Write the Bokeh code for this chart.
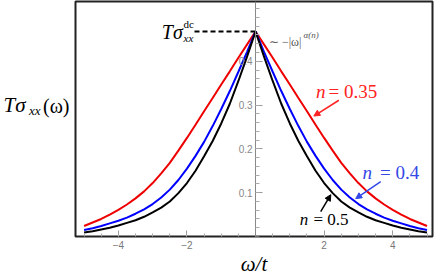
from bokeh.plotting import figure
from bokeh.models import Range1d, LinearAxis, FixedTicker, Label, Arrow, NormalHead
from bokeh.embed import file_html
from bokeh.resources import INLINE

# ---------------- data ----------------
omega = [-5, -4.75, -4.5, -4.25, -4, -3.75, -3.5, -3.25, -3, -2.75, -2.5, -2.25, -2, -1.75, -1.5, -1.25,
         -1, -0.75, -0.5, -0.25, 0, 0.25, 0.5, 0.75, 1, 1.25, 1.5, 1.75, 2, 2.25, 2.5, 2.75, 3,
         3.25, 3.5, 3.75, 4, 4.25, 4.5, 4.75, 5]
sigma_n035 = [0.024, 0.032, 0.040, 0.050, 0.061, 0.073, 0.087, 0.103, 0.122, 0.144, 0.168, 0.196, 0.225, 0.255,
              0.286, 0.316, 0.347, 0.377, 0.408, 0.438, 0.468, 0.438, 0.408, 0.377, 0.347, 0.316, 0.286,
              0.255, 0.225, 0.196, 0.168, 0.144, 0.122, 0.103, 0.087, 0.073, 0.061, 0.050, 0.040, 0.032, 0.024]
sigma_n04 = [0.015, 0.019, 0.024, 0.030, 0.036, 0.043, 0.052, 0.062, 0.074, 0.089, 0.107, 0.129, 0.155, 0.184,
             0.216, 0.252, 0.291, 0.332, 0.376, 0.421, 0.468, 0.421, 0.376, 0.332, 0.291, 0.252, 0.216,
             0.184, 0.155, 0.129, 0.107, 0.089, 0.074, 0.062, 0.052, 0.043, 0.036, 0.030, 0.024, 0.019, 0.015]
sigma_n05 = [0.009, 0.012, 0.016, 0.020, 0.025, 0.031, 0.037, 0.045, 0.055, 0.066, 0.080, 0.099, 0.122, 0.150,
             0.183, 0.218, 0.258, 0.303, 0.355, 0.410, 0.468, 0.410, 0.355, 0.303, 0.258, 0.218, 0.183,
             0.150, 0.122, 0.099, 0.080, 0.066, 0.055, 0.045, 0.037, 0.031, 0.025, 0.020, 0.016, 0.012, 0.009]
sigma_dc = 0.468

x_tick_values = [-4, -2, 2, 4]
x_tick_labels = ["\u22124", "\u22122", "2", "4"]
y_tick_values = [0.1, 0.2, 0.3, 0.4]
y_tick_labels = ["0.1", "0.2", "0.3", "0.4"]

# ---------------- figure ----------------
p = figure(width=436, height=278, output_backend="svg", toolbar_location=None,
           x_range=Range1d(-5.25, 5.16), y_range=Range1d(0, 0.5364),
           min_border_left=74, min_border_right=4, min_border_top=1, min_border_bottom=41,
           y_axis_location=None)
p.grid.visible = False
p.outline_line_color = "#222222"
p.outline_line_width = 2
p.background_fill_color = "white"
p.border_fill_color = "white"

SERIF = "Liberation Serif"
SANS = "Liberation Sans"

xa = p.xaxis[0]
xa.ticker = FixedTicker(ticks=x_tick_values, minor_ticks=[i * 0.5 for i in range(-10, 11)])
xa.major_label_overrides = dict(zip(x_tick_values, x_tick_labels))
xa.axis_line_color = None
xa.major_tick_in = 6
xa.major_tick_out = 0
xa.minor_tick_in = 3
xa.minor_tick_out = 0
xa.major_tick_line_color = "#999999"
xa.minor_tick_line_color = "#aaaaaa"
xa.major_label_text_color = "#777777"
xa.major_label_text_font = SANS
xa.major_label_text_font_size = "10px"
xa.major_label_standoff = 4
xa.axis_label = "\u03c9/t"
xa.axis_label_text_font = SERIF
xa.axis_label_text_font_style = "italic"
xa.axis_label_text_font_size = "21px"
xa.axis_label_text_color = "black"
xa.axis_label_standoff = 0

ya = LinearAxis(fixed_location=0,
                ticker=FixedTicker(ticks=y_tick_values, minor_ticks=[i * 0.02 for i in range(0, 27)]))
ya.major_label_overrides = dict(zip(y_tick_values, y_tick_labels))
ya.axis_line_color = "#888888"
ya.axis_line_width = 1
ya.major_tick_in = 7
ya.major_tick_out = 0
ya.minor_tick_in = 4
ya.minor_tick_out = 0
ya.major_tick_line_color = "#999999"
ya.minor_tick_line_color = "#aaaaaa"
ya.major_label_text_color = "#888888"
ya.major_label_text_font = SANS
ya.major_label_text_font_size = "10px"
ya.major_label_standoff = 3
p.add_layout(ya, "left")

# y label  T sigma_xx(omega), built from three label-only axes in the left panel
# (a blank second line lifts each part above the frame's middle)
def label_axis(text, size, style, standoff):
    ax = LinearAxis(ticker=FixedTicker(ticks=[]), axis_line_color=None,
                    major_tick_in=0, major_tick_out=0, minor_tick_in=0, minor_tick_out=0,
                    major_label_text_font_size="0px", major_label_standoff=0,
                    axis_label=text, axis_label_orientation="horizontal",
                    axis_label_text_font=SERIF, axis_label_text_font_style=style,
                    axis_label_text_font_size=size, axis_label_text_color="black",
                    axis_label_standoff=standoff)
    p.add_layout(ax, "left")

label_axis("(\u03c9)\n ", "20px", "normal", 6)
label_axis("xx\n ", "13px", "italic", 0)
label_axis("T\u03c3\n ", "21px", "italic", 0)

# ---------------- curves ----------------
p.line(omega, sigma_n035, line_color="#ee0000", line_width=2)
p.line(omega, sigma_n04, line_color="#0000ff", line_width=2)
p.line(omega, sigma_n05, line_color="black", line_width=2)

# dashed dc level
dash_start = -1.78
p.segment(x0=[dash_start], y0=[sigma_dc], x1=[0], y1=[sigma_dc],
          line_color="black", line_width=2, line_dash="5 3")

def lab(x, y, text, size, color="black", style="italic", align="left", font=SERIF):
    p.add_layout(Label(x=x, y=y, text=text, text_font_size=size,
                       text_color=color, text_font_style=style, text_align=align,
                       text_baseline="middle", text_font=font))

# T sigma^dc_xx
lab(-2.12, 0.466, "T\u03c3", "20px", align="right")
lab(-2.10, 0.486, "dc", "11px", style="normal")
lab(-2.10, 0.452, "xx", "11px")

# ~ -|w|^alpha(n)
lab(0.39, 0.444, "\u223c \u2212|\u03c9|", "12px", color="#555555", style="normal")
lab(1.40, 0.459, "\u03b1(n)", "9px", color="#555555")

# curve labels
red_txt = "#ff2222"
blue_txt = "#3348e6"
lab(1.76, 0.332, "n", "19px", color=red_txt)
lab(2.13, 0.332, "= 0.35", "19px", color=red_txt, style="normal")
lab(3.12, 0.146, "n", "19px", color=blue_txt)
lab(3.63, 0.146, "= 0.4", "19px", color=blue_txt, style="normal")
lab(1.29, 0.0386, "n", "17px")
lab(1.69, 0.0386, "= 0.5", "17px", style="normal")

# arrows
p.add_layout(Arrow(x_start=2.43, y_start=0.311, x_end=1.70, y_end=0.275,
                   line_color=red_txt, line_width=1.5,
                   end=NormalHead(size=6, line_color=red_txt, fill_color=red_txt)))
p.add_layout(Arrow(x_start=3.65, y_start=0.125, x_end=2.92, y_end=0.0864,
                   line_color=blue_txt, line_width=1.5,
                   end=NormalHead(size=6, line_color=blue_txt, fill_color=blue_txt)))
p.add_layout(Arrow(x_start=1.90, y_start=0.0568, x_end=2.195, y_end=0.0955,
                   line_color="black", line_width=1.5,
                   end=NormalHead(size=6, line_color="black", fill_color="black")))

open("out.html", "w").write(file_html(p, INLINE))
